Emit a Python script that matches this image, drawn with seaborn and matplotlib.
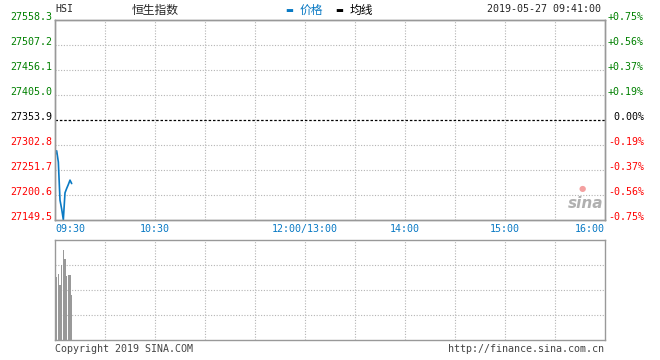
import matplotlib.pyplot as plt
import seaborn as sns
import pandas as pd

# intraday HSI, minutes after 09:30
minutes = [0, 1, 2, 3, 4, 5, 6, 7, 8, 9, 10]
prices = [27282, 27291, 27268, 27190, 27172, 27150, 27205, 27214, 27222, 27231, 27224]
vol_minutes = [1, 2, 3, 4, 5, 6, 7, 8, 9, 10]
volumes = [63, 66, 55, 75, 90, 81, 64, 65, 65, 45]

price_ticks = [27558.3, 27507.2, 27456.1, 27405.0, 27353.9, 27302.8, 27251.7, 27200.6, 27149.5]
pct_labels = ['+0.75%', '+0.56%', '+0.37%', '+0.19%', ' 0.00%', '-0.19%', '-0.37%', '-0.56%', '-0.75%']
prev_close = 27353.9
time_labels = ['09:30', '10:30', '12:00/13:00', '14:00', '15:00', '16:00']
time_pos = [0, 60, 150, 210, 270, 330]

sns.set_theme(style="white")
fam = ['DejaVu Sans Mono', 'Noto Sans CJK SC']
plt.rcParams['font.family'] = fam

GREEN = '#008000'
RED = '#ff0000'
BLUE = '#0a7ac4'
GRID = '#b4b4b4'
BORDER = '#999999'
FS = 7.2

df = pd.DataFrame({'minute': minutes, 'price': prices})

fig = plt.figure(figsize=(6.6, 3.6), dpi=100)
ax = fig.add_axes([55/660, 1-220/360, 550/660, 200/360])
axv = fig.add_axes([55/660, 1-340/360, 550/660, 100/360])

sns.lineplot(x='minute', y='price', data=df, ax=ax, color=BLUE, lw=1.2)
ax.set_xlim(0, 330)
ax.set_ylim(27149.5, 27558.3)
ax.set_xlabel('')
ax.set_ylabel('')

# grid
for m in range(30, 330, 30):
    ax.axvline(m, color=GRID, lw=0.8, ls=(0, (1, 1.5)), zorder=0)
    axv.axvline(m, color=GRID, lw=0.8, ls=(0, (1, 1.5)), zorder=0)
for p in price_ticks[1:-1]:
    if p == prev_close:
        ax.axhline(p, color='black', lw=0.9, ls=(0, (2, 1.5)), zorder=1)
    else:
        ax.axhline(p, color=GRID, lw=0.8, ls=(0, (1, 1.5)), zorder=0)

def tick_color(i):
    if i < 4:
        return GREEN
    if i == 4:
        return 'black'
    return RED

ax.set_yticks(price_ticks)
ax.set_yticklabels([f'{p:.1f}' for p in price_ticks], fontsize=FS)
for i, lab in enumerate(ax.get_yticklabels()):
    lab.set_color(tick_color(i))
    lab.set_va('baseline')

axr = ax.twinx()
axr.set_ylim(ax.get_ylim())
axr.set_yticks(price_ticks)
axr.set_yticklabels(pct_labels, fontsize=FS)
for i, lab in enumerate(axr.get_yticklabels()):
    lab.set_color(tick_color(i))
    lab.set_va('baseline')

ax.set_xticks(time_pos)
ax.set_xticklabels(time_labels, fontsize=FS, color=BLUE)
labs = ax.get_xticklabels()
labs[0].set_ha('left')
labs[-1].set_ha('right')

for a in (ax, axr):
    a.tick_params(length=0, pad=2)
ax.tick_params(axis='x', pad=3)

# volume
axv.bar(vol_minutes, volumes, width=0.7, color='#999999', linewidth=0)
axv.set_xlim(0, 330)
axv.set_ylim(0, 100)
for v in [25, 50, 75]:
    axv.axhline(v, color=GRID, lw=0.8, ls=(0, (1, 1.5)), zorder=0)
axv.set_xticks([])
axv.set_yticks([])

for a in (ax, axr, axv):
    for s in a.spines.values():
        s.set_color(BORDER)
        s.set_linewidth(1)

# header
fig.text(55/660, 1-9/360, 'HSI', fontsize=FS, va='center', ha='left')
fig.text(155/660, 1-10/360, '恒生指数', fontsize=8.5, va='center', ha='center', family=['Noto Sans CJK SC'])
fig.text(285/660, 1-11/360, '▬', fontsize=6, va='center', ha='left', color=BLUE, family=['DejaVu Sans'])
fig.text(300/660, 1-10/360, '价格', fontsize=8.5, va='center', ha='left', color=BLUE, family=['Noto Sans CJK SC'])
fig.text(335/660, 1-11/360, '▬', fontsize=6, va='center', ha='left', color='black', family=['DejaVu Sans'])
fig.text(350/660, 1-10/360, '均线', fontsize=8.5, va='center', ha='left', color='black', family=['Noto Sans CJK SC'])
fig.text(601/660, 1-9/360, '2019-05-27 09:41:00', fontsize=FS, va='center', ha='right')

# footer
fig.text(55/660, 1-349/360, 'Copyright 2019 SINA.COM', fontsize=FS, va='center', ha='left', color='#444444')
fig.text(604/660, 1-349/360, 'http://finance.sina.com.cn', fontsize=FS, va='center', ha='right', color='#444444')

# watermark
fig.text(586/660, 1-204/360, 'sina', fontsize=11, style='italic', weight='bold',
         va='center', ha='center', color='#b0b0b0', family=['DejaVu Sans'])
fig.text(582/660, 1-188/360, '●', fontsize=6, va='center', ha='center', color='#f4a0a0', family=['DejaVu Sans'])

plt.savefig('out.png', dpi=100)
